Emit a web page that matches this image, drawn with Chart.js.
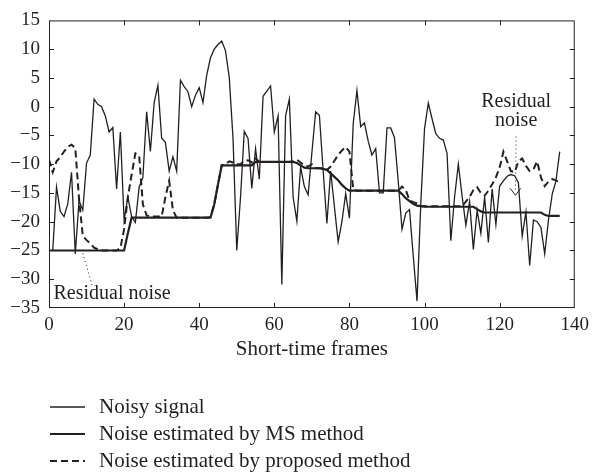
<!DOCTYPE html>
<html>
<head>
<meta charset="utf-8">
<script src="https://cdn.jsdelivr.net/npm/chart.js@4.4.1/dist/chart.umd.min.js"></script>
<style>
  html, body { margin: 0; padding: 0; background: #fff; }
  #wrap { width: 595px; height: 475px; }
</style>
</head>
<body>
<div id="wrap"><canvas id="chart"></canvas></div>
<script>
// short-time frame index (x)
const frames = [
  0, 1, 2, 3, 4, 5, 6, 7, 8, 9, 10, 11, 12, 13, 14, 15, 16, 17, 18, 19,
  20, 21, 22, 23, 24, 25, 26, 27, 28, 29, 30, 31, 32, 33, 34, 35, 36, 37, 38, 39,
  40, 41, 42, 43, 44, 45, 46, 47, 48, 49, 50, 51, 52, 53, 54, 55, 56, 57, 58, 59,
  60, 61, 62, 63, 64, 65, 66, 67, 68, 69, 70, 71, 72, 73, 74, 75, 76, 77, 78, 79,
  80, 81, 82, 83, 84, 85, 86, 87, 88, 89, 90, 91, 92, 93, 94, 95, 96, 97, 98, 99,
  100, 101, 102, 103, 104, 105, 106, 107, 108, 109, 110, 111, 112, 113, 114, 115, 116, 117, 118, 119,
  120, 121, 122, 123, 124, 125, 126, 127, 128, 129, 130, 131, 132, 133, 134, 135, 136
];

const noisySignal = [
  null, -25, -14, -18.2, -19.1, -16.9, -11.4, -25.6, -16.3, -18, -9.8, -8.4, 1.3, 0.4, 0, -1.6, -4.4, -3.6, -14.3, -4.4,
  -19.7, -15.7, -19.1, -20.1, -14, -12.3, -0.9, -7.8, 0.7, 3.7, -5.5, -6.2, -11.2, -8.7, -11.2, 4.6, 3.5, 2.6, 0, 2,
  3.3, 0.7, 5.5, 8.5, 10, 10.8, 11.4, 9.7, 5.1, -5.5, -25, -15.7, -4.3, -5.5, -14.2, -7.3, -12.6, 1.8, 2.7, 3.6,
  -4.4, -1.6, -30.9, -1.6, 1.3, -15.7, -19.9, -10.5, -13.9, -15.3, -8, -0.9, -1.5, -11.1, -20.3, -11.2, -17.4, -23.5, -20, -15.1,
  -19.4, -3, 2.8, -3.5, -2.8, -6, -8.4, -7.3, -15, -15, -3.7, -3.7, -5.4, -13, -21.3, -18.5, -17.9, -26, -33.8, -16.9,
  -3.8, 0.6, -2.1, -4.7, -5.5, -5.8, -8.1, -23.3, -15.7, -10, -15.5, -20.6, -16.5, -24.8, -18, -22, -15.7, -23.6, -14.3, -20.5,
  -13.8, -12.9, -12.1, -11.8, -12, -13.2, -22.5, -18.3, -27.6, -19.7, -20, -21, -25.6, -19.7, -15.2, -12.9, -7.8
];

const msEstimate = [
  -25, -25, -25, -25, -25, -25, -25, -25, -25, -25, -25, -25, -25, -25, -25, -25, -25, -25, -25, -25,
  -25, -22, -19.3, -19.3, -19.3, -19.3, -19.3, -19.3, -19.3, -19.3, -19.3, -19.3, -19.3, -19.3, -19.3, -19.3, -19.3, -19.3, -19.3, -19.3,
  -19.3, -19.3, -19.3, -19.3, -17, -13.5, -10.2, -10.2, -10.2, -10.2, -10.2, -10.2, -10.2, -10.2, -10.2, -9.6, -9.6, -9.6, -9.6, -9.6,
  -9.6, -9.6, -9.6, -9.6, -9.6, -9.6, -9.8, -10.2, -10.6, -10.7, -10.7, -10.7, -10.7, -10.8, -11, -11.6, -12.2, -12.8, -13.6, -14.2,
  -14.6, -14.6, -14.6, -14.6, -14.6, -14.6, -14.6, -14.6, -14.6, -14.6, -14.6, -14.6, -14.6, -14.6, -15.2, -15.9, -16.4, -16.9, -17.2, -17.3,
  -17.4, -17.4, -17.4, -17.4, -17.4, -17.4, -17.4, -17.4, -17.4, -17.4, -17.4, -17.4, -17.4, -17.4, -17.8, -18.2, -18.4, -18.4, -18.4, -18.4,
  -18.4, -18.4, -18.4, -18.4, -18.4, -18.4, -18.4, -18.4, -18.4, -18.4, -18.4, -18.4, -18.8, -19, -19, -19, -19
];

const proposedEstimate = [
  -9.2, -11.4, -9.5, -8.8, -7.8, -7, -6.6, -7.2, -16, -22.5, -23.2, -23.8, -24.5, -24.8, -25, -25, -25, -25, -25, -24.6,
  -21.3, -15.7, -11.8, -8.1, -8.5, -17, -18.9, -19.1, -19.1, -19.1, -19.1, -15.7, -12.9, -18, -19.3, -19.3, -19.3, -19.3, -19.3, -19.3,
  -19.3, -19.3, -19.3, -19.2, -17, -13.5, -10.2, -10, -9.5, -9.7, -10, -10, -9.4, -9.3, -9.7, -9, -9.6, -9.6, -9.6, -9.6,
  -9.6, -9.6, -9.6, -9.6, -9.6, -9.5, -9.2, -9.7, -10.2, -10.4, -10, -10.7, -10.7, -10.7, -11, -10.4, -9.4, -8.4, -7.6, -7,
  -7.8, -14.3, -14.6, -14.6, -14.6, -14.6, -14.6, -14.6, -14.6, -14.6, -14.6, -14.6, -14.6, -14.6, -13.9, -14.5, -16.3, -16.6, -16.8, -17.3,
  -17.3, -17.3, -17.3, -17.3, -17.3, -17.3, -17.3, -17.3, -17.3, -17.3, -17.3, -16.5, -15.7, -14.5, -14, -15, -15.5, -14.6, -13.5, -12.3,
  -10.6, -7.8, -9.5, -11.2, -11.4, -9.5, -9, -10.3, -11.2, -10.9, -9.5, -12.3, -13.8, -13, -12.6, -12.8, -13.2
];

const seriesNames = [
  'Noisy signal',
  'Noise estimated by MS method',
  'Noise estimated by proposed method'
];
const xTicks = [0, 20, 40, 60, 80, 100, 120, 140];
const yTicks = [15, 10, 5, 0, -5, -10, -15, -20, -25, -30, -35];

const INK = '#231f20';
const FONT = '"Liberation Serif", "Times New Roman", serif';

const toPoints = (vals) => frames.map((f, i) => ({ x: f, y: vals[i] }));

// frame, inward ticks, annotations, axis title and legend
const decorations = {
  id: 'decorations',
  afterDraw(chart) {
    const { ctx, chartArea: a, scales } = chart;
    const xs = scales.x, ys = scales.y;
    ctx.save();
    ctx.strokeStyle = INK;
    ctx.lineWidth = 1;
    ctx.setLineDash([]);
    ctx.strokeRect(a.left + 0.5, a.top + 0.5, a.right - a.left - 1, a.bottom - a.top - 1);

    const tk = 5;
    ctx.beginPath();
    xTicks.slice(1, -1).forEach(v => {
      const px = Math.round(xs.getPixelForValue(v)) + 0.5;
      ctx.moveTo(px, a.bottom); ctx.lineTo(px, a.bottom - tk);
      ctx.moveTo(px, a.top); ctx.lineTo(px, a.top + tk);
    });
    yTicks.slice(1, -1).forEach(v => {
      const py = Math.round(ys.getPixelForValue(v)) + 0.5;
      ctx.moveTo(a.left, py); ctx.lineTo(a.left + tk, py);
      ctx.moveTo(a.right, py); ctx.lineTo(a.right - tk, py);
    });
    ctx.stroke();

    // annotations
    ctx.fillStyle = INK;
    ctx.font = '20px ' + FONT;
    ctx.textBaseline = 'middle';
    ctx.textAlign = 'left';
    ctx.fillText('Residual noise', xs.getPixelForValue(1.2), ys.getPixelForValue(-32.6));
    ctx.textAlign = 'center';
    ctx.fillText('Residual', xs.getPixelForValue(124.4), ys.getPixelForValue(0.8));
    ctx.fillText('noise', xs.getPixelForValue(124.4), ys.getPixelForValue(-2.4));

    ctx.lineWidth = 1;
    ctx.setLineDash([1, 3]);
    ctx.beginPath();
    ctx.moveTo(xs.getPixelForValue(9), ys.getPixelForValue(-25.5));
    ctx.lineTo(xs.getPixelForValue(11.6), ys.getPixelForValue(-31.3));
    ctx.moveTo(xs.getPixelForValue(124.4), ys.getPixelForValue(-5.2));
    ctx.lineTo(xs.getPixelForValue(124.2), ys.getPixelForValue(-14.8));
    ctx.stroke();
    ctx.setLineDash([]);
    ctx.beginPath();
    ctx.moveTo(xs.getPixelForValue(122.8), ys.getPixelForValue(-14.2));
    ctx.lineTo(xs.getPixelForValue(124.2), ys.getPixelForValue(-15.4));
    ctx.lineTo(xs.getPixelForValue(125.6), ys.getPixelForValue(-14.2));
    ctx.stroke();

    // x axis title
    ctx.font = '21px ' + FONT;
    ctx.textAlign = 'center';
    ctx.fillText('Short-time frames', (a.left + a.right) / 2, 349);

    // legend
    const rows = [407, 434, 461];
    chart.data.datasets.forEach((ds, i) => {
      ctx.strokeStyle = ds.borderColor;
      ctx.lineWidth = ds.borderWidth;
      ctx.setLineDash(ds.borderDash || []);
      ctx.beginPath();
      ctx.moveTo(50, rows[i]);
      ctx.lineTo(85, rows[i]);
      ctx.stroke();
      ctx.setLineDash([]);
      ctx.textAlign = 'left';
      ctx.fillText(ds.label, 99, rows[i]);
    });
    ctx.restore();
  }
};

new Chart(document.getElementById('chart'), {
  type: 'line',
  data: {
    datasets: [
      {
        label: seriesNames[0],
        data: toPoints(noisySignal),
        borderColor: INK,
        borderWidth: 1.3,
        pointRadius: 0,
        tension: 0,
        spanGaps: false,
        order: 3
      },
      {
        label: seriesNames[1],
        data: toPoints(msEstimate),
        borderColor: INK,
        borderWidth: 2.2,
        pointRadius: 0,
        tension: 0,
        order: 1
      },
      {
        label: seriesNames[2],
        data: toPoints(proposedEstimate),
        borderColor: INK,
        borderWidth: 2,
        borderDash: [7, 4],
        pointRadius: 0,
        tension: 0,
        order: 2
      }
    ]
  },
  options: {
    responsive: true,
    maintainAspectRatio: false,
    animation: false,
    layout: { padding: { top: 11, right: 16, left: 0, bottom: 0 } },
    plugins: {
      legend: { display: false },
      title: { display: false },
      tooltip: { enabled: false }
    },
    scales: {
      x: {
        type: 'linear',
        min: 0,
        max: 140,
        afterFit: (s) => { s.height = 167; },
        afterBuildTicks: (s) => { s.ticks = xTicks.map(v => ({ value: v })); },
        grid: { display: false, drawTicks: false },
        border: { display: false },
        ticks: {
          padding: 6,
          color: INK,
          font: { size: 19, family: FONT },
          maxRotation: 0
        }
      },
      y: {
        type: 'linear',
        min: -35,
        max: 15,
        afterFit: (s) => { s.width = 49; },
        afterBuildTicks: (s) => { s.ticks = yTicks.map(v => ({ value: v })); },
        grid: { display: false, drawTicks: false },
        border: { display: false },
        ticks: {
          padding: 9,
          color: INK,
          font: { size: 19, family: FONT },
          callback: (v) => String(v).replace('-', '\u2212')
        }
      }
    }
  },
  plugins: [decorations]
});
</script>
</body>
</html>
